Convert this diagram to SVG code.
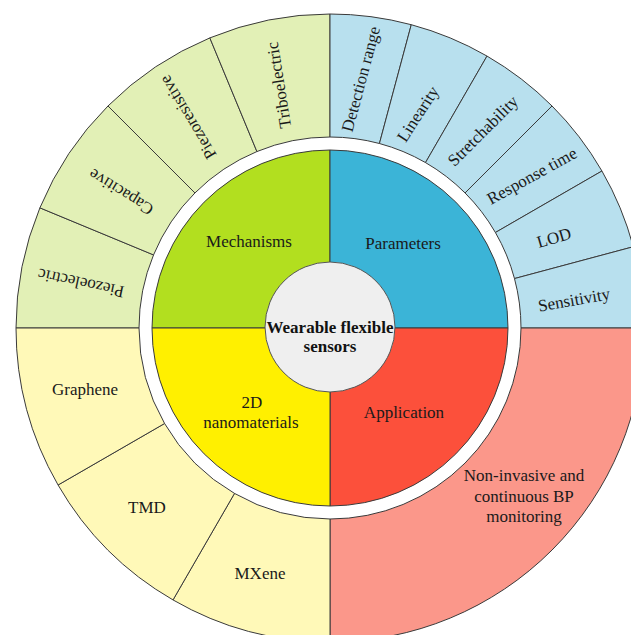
<svg xmlns="http://www.w3.org/2000/svg" width="631" height="635" viewBox="0 0 631 635">
  <style>
    .seg { stroke: #3a3a3a; stroke-width: 1; }
    .lbl { font-family: "Liberation Serif", "Times New Roman", serif; font-size: 17px; fill: #1a1a1a; text-anchor: middle; }
    .rot { dominant-baseline: central; }
    .hub { font-family: "Liberation Serif", "Times New Roman", serif; font-size: 17px; font-weight: bold; fill: #111; text-anchor: middle; }
    .mech-o { fill: #e2f0b6; }
    .par-o { fill: #b8e0ee; }
    .mat-o { fill: #fff9b8; }
    .app-o { fill: #fb978a; }
  </style>
  <rect width="631" height="635" fill="#ffffff"/>

  <!-- Mechanisms: outer ring, four 22.5 degree sectors -->
  <g id="mech-piezoelectric">
    <path class="seg mech-o" d="M16,328 A314,314 0 0 1 39.9,207.84 L153.54,254.91 A191,191 0 0 0 139,328 Z"/>
    <text class="lbl rot" transform="translate(81,283) rotate(192)">Piezoelectric</text>
  </g>
  <g id="mech-capacitive">
    <path class="seg mech-o" d="M39.9,207.84 A314,314 0 0 1 107.97,105.97 L194.94,192.94 A191,191 0 0 0 153.54,254.91 Z"/>
    <text class="lbl rot" transform="translate(121,192) rotate(212)">Capacitive</text>
  </g>
  <g id="mech-piezoresistive">
    <path class="seg mech-o" d="M107.97,105.97 A314,314 0 0 1 209.84,37.9 L256.91,151.54 A191,191 0 0 0 194.94,192.94 Z"/>
    <text class="lbl rot" transform="translate(188,117) rotate(239)">Piezoresistive</text>
  </g>
  <g id="mech-triboelectric">
    <path class="seg mech-o" d="M209.84,37.9 A314,314 0 0 1 330,14 L330,137 A191,191 0 0 0 256.91,151.54 Z"/>
    <text class="lbl rot" transform="translate(279,85) rotate(261)">Triboelectric</text>
  </g>

  <!-- Parameters: outer ring, six 15 degree sectors -->
  <g id="par-detection">
    <path class="seg par-o" d="M330,14 A314,314 0 0 1 411.27,24.7 L379.43,143.51 A191,191 0 0 0 330,137 Z"/>
    <text class="lbl rot" transform="translate(361,79) rotate(-75)">Detection range</text>
  </g>
  <g id="par-linearity">
    <path class="seg par-o" d="M411.27,24.7 A314,314 0 0 1 487,56.07 L425.5,162.59 A191,191 0 0 0 379.43,143.51 Z"/>
    <text class="lbl rot" transform="translate(418,114) rotate(-57)">Linearity</text>
  </g>
  <g id="par-stretchability">
    <path class="seg par-o" d="M487,56.07 A314,314 0 0 1 552.03,105.97 L465.06,192.94 A191,191 0 0 0 425.5,162.59 Z"/>
    <text class="lbl rot" transform="translate(483,131) rotate(-45)">Stretchability</text>
  </g>
  <g id="par-response">
    <path class="seg par-o" d="M552.03,105.97 A314,314 0 0 1 601.93,171 L495.41,232.5 A191,191 0 0 0 465.06,192.94 Z"/>
    <text class="lbl rot" transform="translate(532,176) rotate(-29)">Response time</text>
  </g>
  <g id="par-lod">
    <path class="seg par-o" d="M601.93,171 A314,314 0 0 1 633.3,246.73 L514.49,278.57 A191,191 0 0 0 495.41,232.5 Z"/>
    <text class="lbl rot" transform="translate(554,238) rotate(-16)">LOD</text>
  </g>
  <g id="par-sensitivity">
    <path class="seg par-o" d="M633.3,246.73 A314,314 0 0 1 644,328 L521,328 A191,191 0 0 0 514.49,278.57 Z"/>
    <text class="lbl rot" transform="translate(574,300) rotate(-10)">Sensitivity</text>
  </g>

  <!-- Application: one outer quarter -->
  <g id="app-bp">
    <path class="seg app-o" d="M644,328 A314,314 0 0 1 330,642 L330,519 A191,191 0 0 0 521,328 Z"/>
    <text class="lbl" x="524" y="481">Non-invasive and</text>
    <text class="lbl" x="524" y="502">continuous BP</text>
    <text class="lbl" x="524" y="522">monitoring</text>
  </g>

  <!-- 2D nanomaterials: outer ring, three 30 degree sectors -->
  <g id="mat-mxene">
    <path class="seg mat-o" d="M330,642 A314,314 0 0 1 173,599.93 L234.5,493.41 A191,191 0 0 0 330,519 Z"/>
    <text class="lbl" x="260" y="579">MXene</text>
  </g>
  <g id="mat-tmd">
    <path class="seg mat-o" d="M173,599.93 A314,314 0 0 1 58.07,485 L164.59,423.5 A191,191 0 0 0 234.5,493.41 Z"/>
    <text class="lbl" x="147" y="513">TMD</text>
  </g>
  <g id="mat-graphene">
    <path class="seg mat-o" d="M58.07,485 A314,314 0 0 1 16,328 L139,328 A191,191 0 0 0 164.59,423.5 Z"/>
    <text class="lbl" x="85" y="395">Graphene</text>
  </g>

  <!-- Inner disc: four category quadrants -->
  <g id="mechanisms">
    <path class="seg" fill="#b2df1f" d="M330,328 L152,328 A178,178 0 0 1 330,150 Z"/>
    <text class="lbl" x="249" y="247">Mechanisms</text>
  </g>
  <g id="parameters">
    <path class="seg" fill="#3bb4d7" d="M330,328 L330,150 A178,178 0 0 1 508,328 Z"/>
    <text class="lbl" x="403" y="249">Parameters</text>
  </g>
  <g id="application">
    <path class="seg" fill="#fc503b" d="M330,328 L508,328 A178,178 0 0 1 330,506 Z"/>
    <text class="lbl" x="404" y="418">Application</text>
  </g>
  <g id="nanomaterials">
    <path class="seg" fill="#fff000" d="M330,328 L330,506 A178,178 0 0 1 152,328 Z"/>
    <text class="lbl" x="252" y="408">2D</text>
    <text class="lbl" x="251" y="428">nanomaterials</text>
  </g>

  <!-- Hub -->
  <g id="hub">
    <circle cx="330" cy="327" r="65" fill="#efefef" stroke="#555" stroke-width="1"/>
    <text class="hub" x="330" y="333">Wearable flexible</text>
    <text class="hub" x="330" y="352">sensors</text>
  </g>
</svg>
